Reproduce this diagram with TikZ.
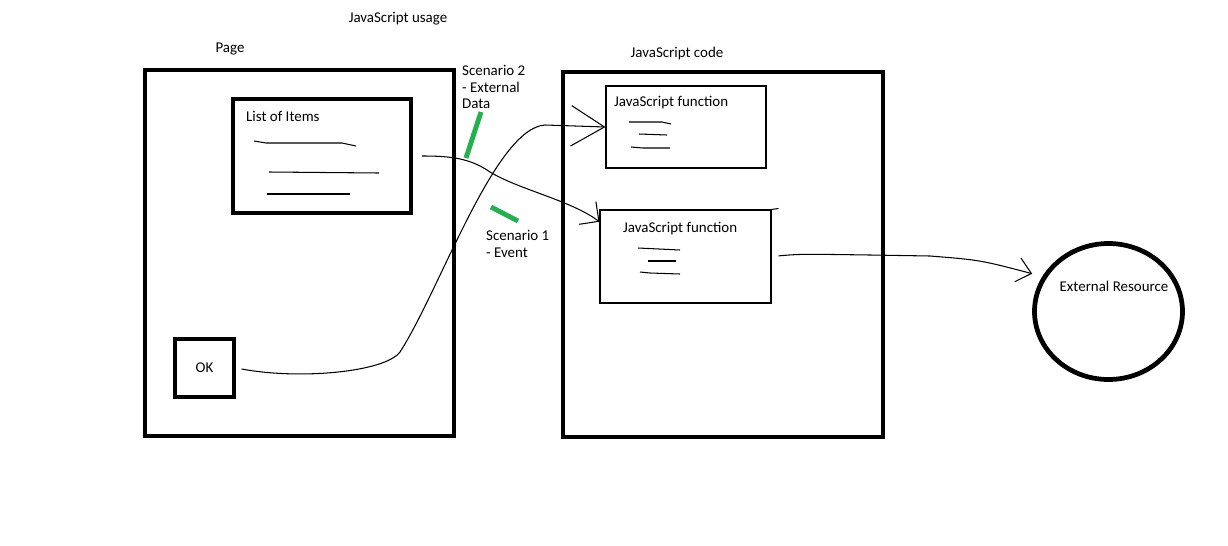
\documentclass[tikz,border=0pt]{standalone}
\usepackage{fontspec}
\setmainfont{Carlito}
\usetikzlibrary{arrows.meta,shapes.geometric}
\definecolor{paintgreen}{RGB}{34,177,76}

\begin{document}
\begin{tikzpicture}[x=0.02cm,y=-0.02cm,
	font=\fontsize{8.5}{9.6}\selectfont,
	thickbox/.style={draw,line width=2.7pt,rectangle,inner sep=0pt},
	thinbox/.style={draw,line width=0.6pt,rectangle,inner sep=0pt},
	scribble/.style={line width=0.6pt},
	marker/.style={draw=paintgreen,line width=2.8pt}]
	\useasboundingbox (0,0) rectangle (1228,545);
	
	%TITLES
	\node (title) at (398,19) {JavaScript usage};
	\node (pagelbl) at (230,49) {Page};
	\node (codelbl) at (677,54) {JavaScript code};
	
	%PAGE
	\node[thickbox,minimum width=6.18cm,minimum height=7.32cm] (page) at (299.5,253) {};
	\node[thickbox,minimum width=3.56cm,minimum height=2.28cm] (items) at (322,156) {};
	\node[anchor=west] (itemslbl) at (240,116) {List of Items};
	\draw[scribble] (254,141) -- (266,143) -- (342,143) -- (356,146);	%items
	\draw[scribble] (269,172) -- (379,173);
	\draw[scribble] (267,194) -- (350,194);
	\node[thickbox,minimum width=1.18cm,minimum height=1.16cm] (ok) at (204.5,368) {OK};
	
	%CODE
	\node[thickbox,minimum width=6.4cm,minimum height=7.3cm] (code) at (723,254.5) {};
	\node[thinbox,minimum width=3.2cm,minimum height=1.64cm] (fnA) at (686,127) {};
	\node[anchor=west] (fnAlbl) at (608,103) {JavaScript function};
	\draw[scribble] (629,122) -- (662,122) -- (671,124);	%body
	\draw[scribble] (639,134) -- (667,135);
	\draw[scribble] (631,147) -- (643,148) -- (670,148);
	%
	\node[thinbox,minimum width=3.42cm,minimum height=1.86cm] (fnB) at (685.5,256.5) {};
	\draw[scribble] (fnB.north east) -- ++(7,-1);	%overshoot
	\node[anchor=west] (fnBlbl) at (617,229) {JavaScript function};
	\draw[scribble] (638,248) -- (680,250);	%body
	\draw[scribble] (648,261) -- (676,261);
	\draw[scribble] (640,272) -- (650,273) -- (680,274);
	
	%RESOURCE
	\node[draw,ellipse,line width=2.7pt,minimum width=2.96cm,minimum height=2.72cm,inner sep=0pt] (res) at (1108.5,311.5) {};
	\node (reslbl) at (1114,286) {External Resource};
	
	%CONNECTORS
	\draw[scribble,shorten <=3pt,-{Straight Barb[length=19pt,width=23pt]}] (ok.east) .. controls (300,380) and (385,372) .. (400,352) .. controls (440,290) and (495,128) .. (545,125) -- (fnA.west);	%event
	\draw[scribble,shorten <=5pt,-{Straight Barb[length=8pt,width=16pt]}] (items.east) .. controls (450,156) and (470,158) .. (490,172) .. controls (520,190) and (570,200) .. (fnB.158);	%data
	\draw[scribble,shorten <=4pt,shorten >=6pt,-{Straight Barb[length=8pt,width=14pt]}] (fnB.east) .. controls (800,254) .. (870,255) -- (930,256) .. controls (980,260) .. (res.152);
	
	%SCENARIOS
	\node[anchor=west,align=left] (sctwo) at (456,87) {Scenario 2\\- External\\Data};
	\draw[marker] (481,112) -- (466,158);
	\node[anchor=west,align=left] (scone) at (480,244) {Scenario 1\\- Event};
	\draw[marker] (491,207) -- (518,221);
\end{tikzpicture}
\end{document}
